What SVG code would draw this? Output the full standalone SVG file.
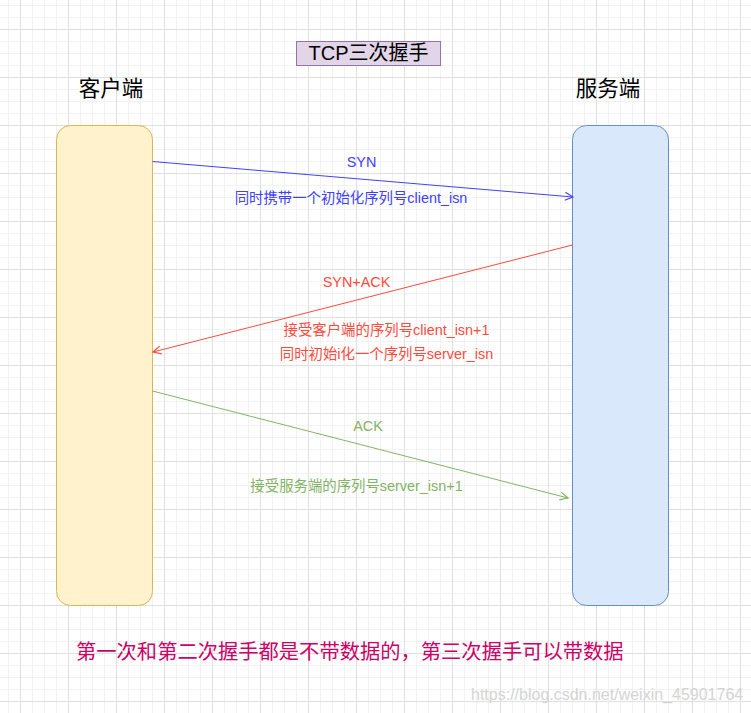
<svg xmlns="http://www.w3.org/2000/svg" width="751" height="713" viewBox="0 0 751 713">
<defs>
<pattern id="grid" x="20" y="29" width="48" height="48" patternUnits="userSpaceOnUse">
<path d="M12.5 0V48M24.5 0V48M36.5 0V48M0 12.5H48M0 24.5H48M0 36.5H48" stroke="#f2f2f2" stroke-width="1" fill="none"/>
<path d="M0.5 0V48M0 0.5H48" stroke="#e0e0e0" stroke-width="1" fill="none"/>
</pattern>
<marker id="ab" viewBox="0 0 10 10" refX="9" refY="5" markerWidth="10" markerHeight="10" markerUnits="userSpaceOnUse" orient="auto"><path d="M1 1L9 5L1 9" fill="none" stroke="#4040ff" stroke-width="1.2"/></marker>
<marker id="ar" viewBox="0 0 10 10" refX="9" refY="5" markerWidth="10" markerHeight="10" markerUnits="userSpaceOnUse" orient="auto"><path d="M1 1L9 5L1 9" fill="none" stroke="#ff4a3d" stroke-width="1.2"/></marker>
<marker id="ag" viewBox="0 0 10 10" refX="9" refY="5" markerWidth="10" markerHeight="10" markerUnits="userSpaceOnUse" orient="auto"><path d="M1 1L9 5L1 9" fill="none" stroke="#82b366" stroke-width="1.2"/></marker>
</defs>
<style>
text{font-family:"Liberation Sans","Noto Sans CJK SC",sans-serif;text-anchor:middle}
.lbl{font-size:14.4px}
.b{fill:#4040ff}.r{fill:#ff4a3d}.g{fill:#82b366}
.hd{font-size:21.5px;fill:#000}
</style>
<rect width="751" height="713" fill="#ffffff"/>
<rect width="751" height="713" fill="url(#grid)"/>
<g id="title">
<rect x="296.5" y="41.5" width="144" height="24" fill="#e1d5e7" stroke="#9673a6" stroke-width="1"/>
<text x="368.5" y="60" style="font-size:20px" fill="#000">TCP三次握手</text>
</g>
<g id="client-label"><text class="hd" x="111" y="96">客户端</text></g>
<g id="server-label"><text class="hd" x="608" y="96">服务端</text></g>
<g id="client">
<rect x="56.5" y="125.5" width="96" height="480" rx="14" ry="14" fill="#fff2cc" stroke="#d6b656" stroke-width="1"/>
</g>
<g id="server">
<rect x="572.5" y="125.5" width="96" height="480" rx="14" ry="14" fill="#dae8fc" stroke="#6c8ebf" stroke-width="1"/>
</g>
<g id="connectors" fill="none" stroke-width="1">
<path d="M152.5 161.5L573 197" stroke="#4040ff" marker-end="url(#ab)"/>
<path d="M572.5 245L153 352" stroke="#ff4a3d" marker-end="url(#ar)"/>
<path d="M152.5 391L568 498" stroke="#82b366" marker-end="url(#ag)"/>
</g>
<g id="labels">
<text class="lbl b" x="361.5" y="167">SYN</text>
<text class="lbl b" x="351" y="203">同时携带一个初始化序列号client_isn</text>
<text class="lbl r" x="356.5" y="287">SYN+ACK</text>
<text class="lbl r" x="386.5" y="335">接受客户端的序列号client_isn+1</text>
<text class="lbl r" x="386.5" y="359">同时初始i化一个序列号server_isn</text>
<text class="lbl g" x="368" y="431">ACK</text>
<text class="lbl g" x="356.5" y="491">接受服务端的序列号server_isn+1</text>
</g>
<g id="note">
<text x="76" y="659" style="font-size:20.3px;text-anchor:start" fill="#cc0066">第一次和第二次握手都是不带数据的，第三次握手可以带数据</text>
</g>
<g id="watermark">
<text x="471" y="700" style="font-size:16px;text-anchor:start" fill="#d4d4d4">https://blog.csdn.net/weixin_45901764</text>
</g>
</svg>
